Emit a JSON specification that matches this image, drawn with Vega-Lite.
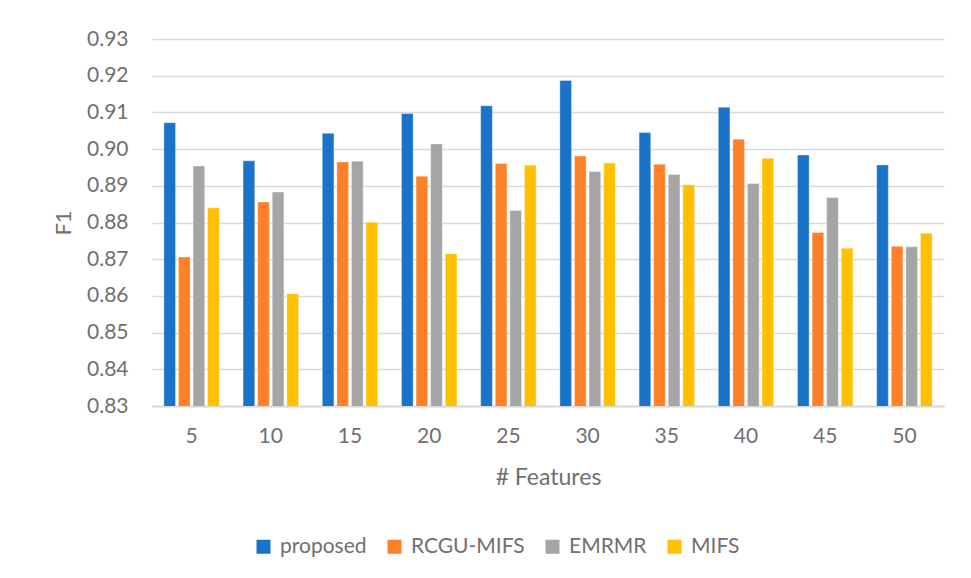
{
  "$schema": "https://vega.github.io/schema/vega-lite/v6.json",
  "width": 792,
  "height": 367,
  "autosize": {"type": "none"},
  "padding": {"left": 152, "top": 39, "right": 27, "bottom": 172},
  "background": "white",
  "config": {
    "view": {"stroke": null},
    "font": "Lato",
    "axis": {"labelFont": "Lato", "titleFont": "Lato", "labelColor": "#707070", "titleColor": "#707070", "titleFontWeight": "normal"},
    "legend": {"labelFont": "Lato", "labelColor": "#707070"}
  },
  "data": {
    "values": [
      {"features": 5, "method": "proposed", "f1": 0.9072},
      {"features": 5, "method": "RCGU-MIFS", "f1": 0.8706},
      {"features": 5, "method": "EMRMR", "f1": 0.8954},
      {"features": 5, "method": "MIFS", "f1": 0.8840},
      {"features": 10, "method": "proposed", "f1": 0.8968},
      {"features": 10, "method": "RCGU-MIFS", "f1": 0.8856},
      {"features": 10, "method": "EMRMR", "f1": 0.8883},
      {"features": 10, "method": "MIFS", "f1": 0.8606},
      {"features": 15, "method": "proposed", "f1": 0.9043},
      {"features": 15, "method": "RCGU-MIFS", "f1": 0.8965},
      {"features": 15, "method": "EMRMR", "f1": 0.8967},
      {"features": 15, "method": "MIFS", "f1": 0.8801},
      {"features": 20, "method": "proposed", "f1": 0.9097},
      {"features": 20, "method": "RCGU-MIFS", "f1": 0.8926},
      {"features": 20, "method": "EMRMR", "f1": 0.9014},
      {"features": 20, "method": "MIFS", "f1": 0.8715},
      {"features": 25, "method": "proposed", "f1": 0.9118},
      {"features": 25, "method": "RCGU-MIFS", "f1": 0.8961},
      {"features": 25, "method": "EMRMR", "f1": 0.8833},
      {"features": 25, "method": "MIFS", "f1": 0.8956},
      {"features": 30, "method": "proposed", "f1": 0.9187},
      {"features": 30, "method": "RCGU-MIFS", "f1": 0.8981},
      {"features": 30, "method": "EMRMR", "f1": 0.8939},
      {"features": 30, "method": "MIFS", "f1": 0.8962},
      {"features": 35, "method": "proposed", "f1": 0.9045},
      {"features": 35, "method": "RCGU-MIFS", "f1": 0.8959},
      {"features": 35, "method": "EMRMR", "f1": 0.8931},
      {"features": 35, "method": "MIFS", "f1": 0.8903},
      {"features": 40, "method": "proposed", "f1": 0.9114},
      {"features": 40, "method": "RCGU-MIFS", "f1": 0.9027},
      {"features": 40, "method": "EMRMR", "f1": 0.8906},
      {"features": 40, "method": "MIFS", "f1": 0.8975},
      {"features": 45, "method": "proposed", "f1": 0.8984},
      {"features": 45, "method": "RCGU-MIFS", "f1": 0.8773},
      {"features": 45, "method": "EMRMR", "f1": 0.8868},
      {"features": 45, "method": "MIFS", "f1": 0.8730},
      {"features": 50, "method": "proposed", "f1": 0.8957},
      {"features": 50, "method": "RCGU-MIFS", "f1": 0.8735},
      {"features": 50, "method": "EMRMR", "f1": 0.8734},
      {"features": 50, "method": "MIFS", "f1": 0.8771}
    ]
  },
  "mark": {"type": "bar", "clip": true, "stroke": "white", "strokeWidth": 0.6, "strokeOpacity": 0.6},
  "encoding": {
    "x": {
      "field": "features",
      "type": "ordinal",
      "scale": {"paddingInner": 0.3, "paddingOuter": 0.15},
      "axis": {
        "title": "# Features",
        "labelAngle": 0,
        "labelFontSize": 21,
        "titleFontSize": 23,
        "labelPadding": 19,
        "ticks": false,
        "domainColor": "#D9D9D9",
        "domainWidth": 2,
        "titleY": 71,
        "titleBaseline": "middle"
      }
    },
    "xOffset": {
      "field": "method",
      "type": "nominal",
      "sort": ["proposed", "RCGU-MIFS", "EMRMR", "MIFS"],
      "scale": {"paddingInner": 0.2, "paddingOuter": 0}
    },
    "y": {
      "field": "f1",
      "type": "quantitative",
      "scale": {"domain": [0.83, 0.93], "nice": false, "zero": false},
      "axis": {
        "title": "F1",
        "values": [0.83, 0.84, 0.85, 0.86, 0.87, 0.88, 0.89, 0.90, 0.91, 0.92, 0.93],
        "format": ".2f",
        "labelFontSize": 21,
        "titleFontSize": 22,
        "labelPadding": 24,
        "ticks": false,
        "domain": false,
        "gridColor": "#D9D9D9",
        "gridWidth": 1.5,
        "titleX": -89,
        "titleY": 183.5,
        "titleAngle": 270,
        "titleAlign": "center",
        "titleBaseline": "middle"
      }
    },
    "color": {
      "field": "method",
      "type": "nominal",
      "sort": ["proposed", "RCGU-MIFS", "EMRMR", "MIFS"],
      "scale": {
        "domain": ["proposed", "RCGU-MIFS", "EMRMR", "MIFS"],
        "range": ["#1873C9", "#FF8027", "#A5A5A5", "#FFC000"]
      },
      "legend": {
        "title": null,
        "orient": "none",
        "direction": "horizontal",
        "legendX": 101,
        "legendY": 497,
        "symbolType": "square",
        "symbolSize": 196,
        "symbolStrokeWidth": 0,
        "labelFontSize": 21,
        "labelOffset": 6,
        "columnPadding": 17
      }
    }
  }
}
